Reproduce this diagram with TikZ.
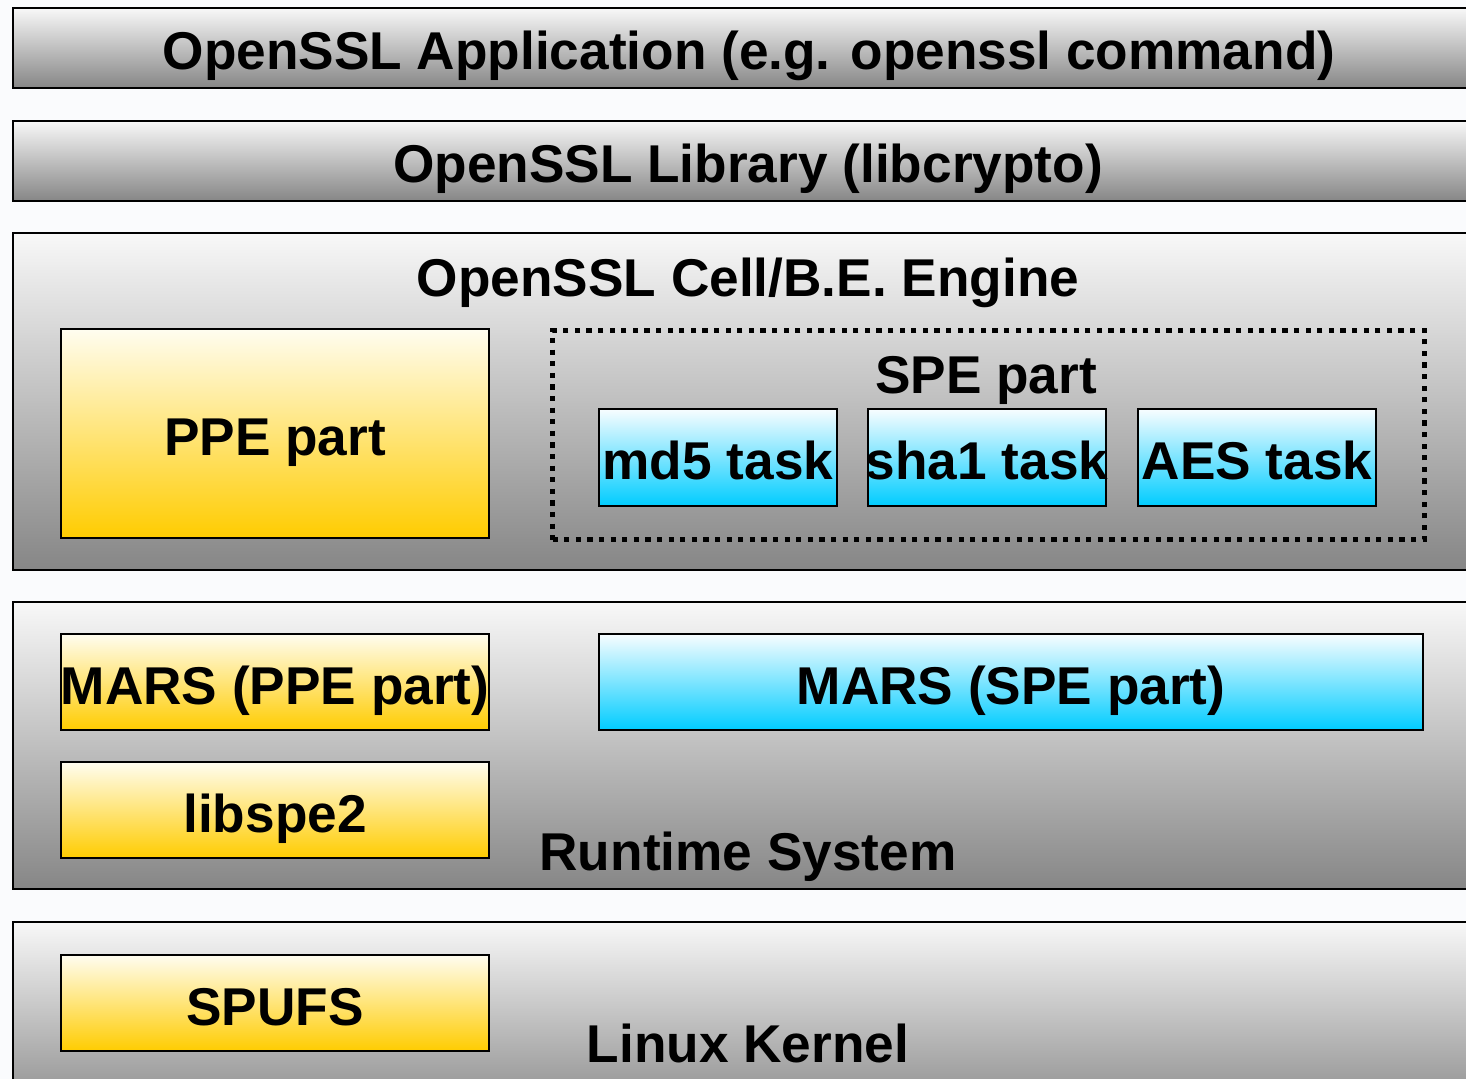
\documentclass[tikz,border=0pt]{standalone}
\usepackage{fontspec}
\setmainfont{Liberation Sans}
\usepackage{tikz}
\usetikzlibrary{positioning}
\definecolor{bgpaper}{RGB}{250,251,253}
\definecolor{graytop}{RGB}{248,248,248}
\definecolor{graybot}{RGB}{134,134,134}
\definecolor{ppetop}{RGB}{255,253,240}
\definecolor{ppebot}{RGB}{255,204,0}
\definecolor{spetop}{RGB}{248,253,255}
\definecolor{spebot}{RGB}{0,204,255}
\tikzset{
% Layer boxes (gray) and part boxes (yellow for PPE, cyan for SPE)
layer box/.style={draw,line width=1pt,anchor=north west,inner sep=0pt,top color=graytop,bottom color=graybot},
ppe box/.style={draw,line width=1pt,anchor=north west,inner sep=0pt,top color=ppetop,bottom color=ppebot},
spe box/.style={draw,line width=1pt,anchor=north west,inner sep=0pt,top color=spetop,bottom color=spebot},
big text/.style={font=\fontsize{26.6}{30}\selectfont\bfseries,inner sep=0pt,text height=19pt,text depth=0pt},
box text/.style={big text,yshift=-1.5pt}
}

\begin{document}
\begin{tikzpicture}[x=0.5pt,y=-0.5pt]
      \useasboundingbox (0,0) rectangle (1466,1079);
      \clip (0,0) rectangle (1466,1079);
      \fill[bgpaper] (0,0) rectangle (1466,1079);
      % The layers
      \node(app)[layer box,minimum width=734pt,minimum height=40pt] at (12,7) {};
      \node(lib)[layer box,minimum width=734pt,minimum height=40pt] at (12,120) {};
      \node(eng)[layer box,minimum width=734pt,minimum height=168.5pt] at (12,232) {};
      \node(rts)[layer box,minimum width=734pt,minimum height=143.5pt] at (12,601) {};
      \node(krn)[layer box,minimum width=734pt,minimum height=100pt] at (12,921) {};
      % Layer titles
      \node(apptxt)[big text] at (749,51) {OpenSSL Application (e.g. openssl command)};
      \node(libtxt)[big text] at (748,164) {OpenSSL Library (libcrypto)};
      \node(engtxt)[big text] at (748,278) {OpenSSL Cell/B.E. Engine};
      \node(rtstxt)[big text] at (748,851) {Runtime System};
      \node(krntxt)[big text] at (748,1043) {Linux Kernel};
      % Engine parts
      \node(ppe)[ppe box,minimum width=214pt,minimum height=104.5pt] at (60,328) {};
      \node[box text] at (ppe.center) {PPE part};
      \node(spe)[draw,line width=2.6pt,dash pattern=on 2.6pt off 3.2pt,anchor=north west,
        inner sep=0pt,minimum width=436pt,minimum height=104.5pt] at (550,328) {};
      \node(spetxt)[big text] at (986,375) {SPE part};
      \node(md5)[spe box,minimum width=119pt,minimum height=48.5pt] at (598,408) {};
      \node[box text] at (md5.center) {md5 task};
      \node(sha)[spe box,minimum width=119pt,minimum height=48.5pt] at (867,408) {};
      \node[box text] at (sha.center) {sha1 task};
      \node(aes)[spe box,minimum width=119pt,minimum height=48.5pt] at (1137,408) {};
      \node[box text] at (aes.center) {AES task};
      % Runtime parts
      \node(marsppe)[ppe box,minimum width=214pt,minimum height=48pt] at (60,633) {};
      \node[box text] at (marsppe.center) {MARS (PPE part)};
      \node(libspe)[ppe box,minimum width=214pt,minimum height=48pt] at (60,761) {};
      \node[box text] at (libspe.center) {libspe2};
      \node(marsspe)[spe box,minimum width=412pt,minimum height=48pt] at (598,633) {};
      \node[box text] at (marsspe.center) {MARS (SPE part)};
      % Kernel part
      \node(spufs)[ppe box,minimum width=214pt,minimum height=48pt] at (60,954) {};
      \node[box text] at (spufs.center) {SPUFS};
    \end{tikzpicture}
\end{document}
